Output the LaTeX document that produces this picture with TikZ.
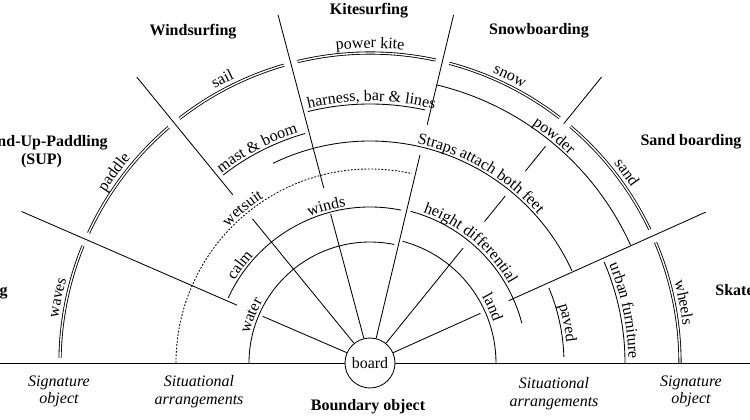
\documentclass[tikz,border=0pt]{standalone}
\usepackage{fontspec}
\setmainfont{Liberation Serif}
\usetikzlibrary{decorations.text}
\newcommand\lab{\fontsize{16}{17.5}\selectfont}
\newcommand\ringarc[4][]{\draw[#1] (#3:#2pt) arc[start angle=#3, end angle=#4, radius=#2pt];}
\newcommand\arclabel[3]{\path[decorate, decoration={text along path, text={|\lab|#3}, text align=center}] ({#2+30}:#1pt) arc[start angle={#2+30}, end angle={#2-30}, radius=#1pt];}
\tikzset{
  dbl/.style={double, double distance=1.4pt, line width=0.85pt},
  dots/.style={dash pattern=on 1.8pt off 1.6pt},
  sport/.style={font=\lab\bfseries, inner sep=0pt},
  zone/.style={font=\lab\itshape, align=center, inner sep=0pt, anchor=north},
}
\begin{document}
\begin{tikzpicture}[x=1pt, y=1pt, line width=0.85pt]
\useasboundingbox (-370,-57) rectangle (380,363);

% signature object double arcs
\ringarc[dbl]{310}{179}{157.8}
\ringarc[dbl]{310}{155.2}{130.5}
\ringarc[dbl]{310}{127.9}{106.1}
\ringarc[dbl]{310}{103.5}{77.8}
\ringarc[dbl]{310}{75.2}{52.3}
\ringarc[dbl]{310}{49.7}{25.5}
\ringarc[dbl]{310}{22.9}{0}

% inner arcs
\ringarc{121}{180}{78.5}
\ringarc{126}{75}{0}
\ringarc{156}{155.4}{78.5}
\ringarc{157}{75}{14.7}
\ringarc[dots]{194}{180}{77.5}
\ringarc{194}{22.8}{1.8}
\ringarc{222}{115.9}{24.5}
\ringarc{238.5}{128}{105.8}
\ringarc{259}{103.9}{77.7}
\ringarc{286}{76.5}{24.3}
\ringarc{255}{23.3}{0}

% board
\node[circle, draw, fill=white, minimum size=50pt, inner sep=0pt, font=\lab] (board) at (0,0) {board};
\draw (-372,0) -- (board.west);
\draw (board.east) -- (382,0);

% radial lines
\draw (board.156.5) -- (156.5:117pt);
\draw (156.5:145pt) -- (156.5:380pt);
\draw (board.129.2) -- (129.2:186pt);
\draw (129.2:217pt) -- (129.2:369pt);
\draw (board.104.8) -- (104.8:154pt);
\draw (104.8:181pt) -- (104.8:360pt);
\draw (board.76.5) -- (76.5:214pt);
\draw (76.5:245pt) -- (76.5:358pt);
\draw (board.51) -- (51:148pt);
\draw (51:182pt) -- (51:215pt);
\draw (51:247pt) -- (51:279pt);
\draw (51:308pt) -- (51:368pt);
\draw (board.24.2) -- (24.2:121pt);
\draw (24.2:152pt) -- (24.2:368pt);

% arc labels
\arclabel{315}{168.2}{waves}
\arclabel{315}{143.3}{paddle}
\arclabel{315}{117.5}{sail}
\arclabel{315}{90}{power kite}
\arclabel{315}{64}{snow}
\arclabel{315}{36.6}{sand}
\arclabel{315}{10.9}{wheels}
\arclabel{124}{158.2}{water}
\arclabel{130}{24.5}{land}
\arclabel{158.5}{143}{calm}
\arclabel{158.5}{105.6}{winds}
\arclabel{160}{50}{height differential}
\arclabel{196.5}{129.5}{wetsuit}
\arclabel{241}{117.7}{mast {\&} boom}
\arclabel{224.5}{59.7}{Straps attach both feet}
\arclabel{262}{89.7}{harness, bar {\&} lines}
\arclabel{288.5}{51}{powder}
\arclabel{197.5}{11.5}{paved}
\arclabel{258.5}{11.6}{urban furniture}

% sport names
\node[sport, anchor=base] (kite) at (-1,348) {Kitesurfing};
\node[sport, anchor=base] (wind) at (-177,327) {Windsurfing};
\node[sport, anchor=base] (snowb) at (169,328) {Snowboarding};
\node[sport, anchor=base] (sandb) at (321,217) {Sand boarding};
\node[sport, anchor=base west] (skate) at (345,67) {Skateboarding};
\node[sport, anchor=base east] (surf) at (-362,67) {Surfing};
\node[sport, align=center, anchor=north] (sup) at (-328.5,228) {Stand-Up-Paddling\\(SUP)};

% zone labels
\node[zone] (sigL) at (-311,-12) {Signature\\object};
\node[zone] (sitL) at (-171,-12) {Situational\\arrangements};
\node[zone] (sitR) at (184,-14) {Situational\\arrangements};
\node[zone] (sigR) at (321,-12) {Signature\\object};
\node[sport, anchor=base] (bound) at (-2,-48) {Boundary object};
\end{tikzpicture}
\end{document}
